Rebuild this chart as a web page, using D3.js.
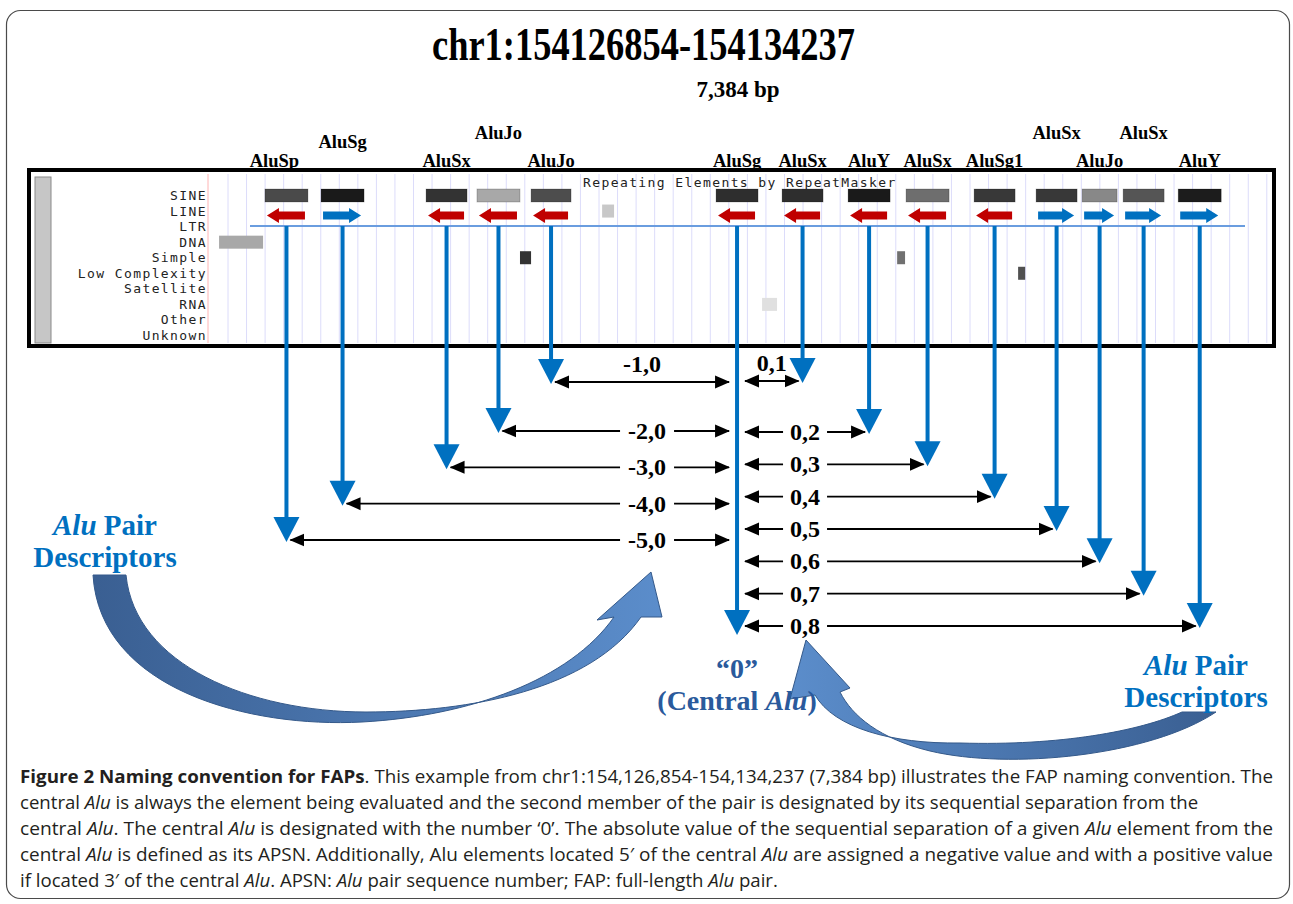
<!DOCTYPE html>
<html><head><meta charset="utf-8">
<script src="https://cdn.jsdelivr.net/npm/d3@7"></script>
<style>body{margin:0;background:#fff} svg{display:block}</style>
</head><body>
<svg id="c" width="1293" height="904"></svg>
<script>
// ---------------- data ----------------
const titleText = "chr1:154126854-154134237";
const subtitleText = "7,384 bp";
const regionStart = 154126854, regionEnd = 154134237;
const trackLabels = ["SINE","LINE","LTR","DNA","Simple","Low Complexity","Satellite","RNA","Other","Unknown"];
const panelTitle = "Repeating Elements by RepeatMasker";

const aluNames   = ["AluSp","AluSg","AluSx","AluJo","AluJo","AluSg","AluSx","AluY","AluSx","AluSg1","AluSx","AluJo","AluSx","AluY"];
const aluStartBp = [382, 772, 1502, 1856, 2232, 3518, 3977, 4436, 4839, 5312, 5743, 6063, 6348, 6731];
const aluEndBp   = [681, 1071, 1787, 2155, 2510, 3810, 4262, 4728, 5138, 5597, 6028, 6306, 6633, 7030];
const aluStrand  = ["-","+","-","-","-","-","-","-","-","-","+","+","+","+"];
const aluScore   = [755, 973, 859, 327, 741, 882, 882, 973, 591, 836, 836, 473, 705, 964];
const aluApsn    = [-5, -4, -3, -2, -1, 0, 1, 2, 3, 4, 5, 6, 7, 8];
const aluLabelTier = [0, 2, 0, 3, 0, 0, 0, 0, 0, 0, 3, 0, 3, 0];

const otherTrack   = ["LINE","DNA","Simple","Simple","Low Complexity","RNA"];
const otherStartBp = [2726, 63, 2155, 4777, 5618, 3838];
const otherEndBp   = [2809, 369, 2232, 4832, 5667, 3942];
const otherScore   = [182, 327, 859, 582, 727, 73];

const captionLines = [
  "**Figure 2 Naming convention for FAPs**. This example from chr1:154,126,854-154,134,237 (7,384 bp) illustrates the FAP naming convention. The",
  "central *Alu* is always the element being evaluated and the second member of the pair is designated by its sequential separation from the",
  "central *Alu*. The central *Alu* is designated with the number \u20180\u2019. The absolute value of the sequential separation of a given *Alu* element from the",
  "central *Alu* is defined as its APSN. Additionally, Alu elements located 5\u2032 of the central *Alu* are assigned a negative value and with a positive value",
  "if located 3\u2032 of the central *Alu*. APSN: *Alu* pair sequence number; FAP: full-length *Alu* pair."
];
const captionJustified = [true, false, true, true, false];

// ---------------- drawing ----------------
const svg = d3.select("#c");
const serif = "'Liberation Serif','Times New Roman',serif";
const mono = "'DejaVu Sans Mono',monospace";
const BLUE = "#0070c0";

const defs = svg.append("defs");
defs.append("marker").attr("id","ah").attr("viewBox","0 -7 15 14")
  .attr("markerUnits","userSpaceOnUse").attr("markerWidth",15).attr("markerHeight",14)
  .attr("refX",14).attr("refY",0).attr("orient","auto-start-reverse")
  .append("path").attr("d","M0,-6.5L15,0L0,6.5Z").attr("fill","#000");
const g1 = defs.append("linearGradient").attr("id","gL").attr("x1","0").attr("x2","1").attr("y1","0").attr("y2","0");
g1.append("stop").attr("offset","0").attr("stop-color","#3a5f92");
g1.append("stop").attr("offset","1").attr("stop-color","#5b8dcb");
const g2 = defs.append("linearGradient").attr("id","gR").attr("x1","1").attr("x2","0").attr("y1","0").attr("y2","0");
g2.append("stop").attr("offset","0").attr("stop-color","#3a5f92");
g2.append("stop").attr("offset","1").attr("stop-color","#5b8dcb");

// outer frame
svg.append("rect").attr("x",6.5).attr("y",10.5).attr("width",1283).attr("height",888)
  .attr("rx",14).attr("fill","none").attr("stroke","#4a4a4a").attr("stroke-width",1.2);

// title
svg.append("text").attr("x",432).attr("y",60).attr("font-family",serif).attr("font-weight","bold")
  .attr("font-size",47).attr("textLength",423).attr("lengthAdjust","spacingAndGlyphs").text(titleText);
svg.append("text").attr("x",738).attr("y",97).attr("text-anchor","middle").attr("font-family",serif)
  .attr("font-weight","bold").attr("font-size",23).text(subtitleText);

// scales
const x = d3.scaleLinear().domain([0, regionEnd - regionStart]).range([210, 1272]);
const row = d3.scaleLinear().domain([0, trackLabels.length - 1]).range([195.5, 335.5]);
const shade = d3.scaleLinear().domain([0, 1000]).range(["#f0f0f0", "#141414"]);
const rowLeft = d3.scaleLinear().domain([1, 2, 5]).range([382, 431, 540]);
const rowRight = d3.scaleLinear().domain([1, 2, 8]).range([381, 432, 626]);

const alus = aluNames.map((n, i) => ({name:n, s:aluStartBp[i], e:aluEndBp[i], strand:aluStrand[i],
  score:aluScore[i], apsn:aluApsn[i], tier:aluLabelTier[i], mid: x((aluStartBp[i] + aluEndBp[i]) / 2)}));
const central = alus.find(d => d.apsn === 0);
const cx = central.mid;

// panel
const panel = svg.append("g");
panel.append("rect").attr("x",29).attr("y",170).attr("width",1245).attr("height",176)
  .attr("fill","#fff").attr("stroke","none");
d3.range(228, 1272, 18.55).forEach(gx => {
  panel.append("line").attr("x1",gx).attr("x2",gx).attr("y1",174).attr("y2",343)
    .attr("stroke","#dcdcfa").attr("stroke-width",1);
});
panel.append("line").attr("x1",208).attr("x2",208).attr("y1",174).attr("y2",343).attr("stroke","#ffb4b4").attr("stroke-width",1);
panel.append("rect").attr("x",35).attr("y",177).attr("width",16).attr("height",166)
  .attr("fill","#c6c6c6").attr("stroke","#8a8a8a").attr("stroke-width",1);
panel.selectAll("text.tl").data(trackLabels).join("text").attr("class","tl")
  .attr("x",207).attr("y",(d,i)=>row(i)+4.5).attr("text-anchor","end")
  .attr("font-family",mono).attr("font-size",13).attr("letter-spacing",1.4).attr("fill","#222").text(d=>d);
panel.append("text").attr("x",583).attr("y",187).attr("font-family",mono).attr("font-size",13)
  .attr("letter-spacing",1.4).attr("fill","#222").text(panelTitle);

// other repeats
panel.selectAll("rect.oth").data(otherTrack).join("rect").attr("class","oth")
  .attr("x",(d,i)=>x(otherStartBp[i])).attr("width",(d,i)=>x(otherEndBp[i])-x(otherStartBp[i]))
  .attr("y",(d,i)=>row(trackLabels.indexOf(d))-6.5).attr("height",13)
  .attr("fill",(d,i)=>shade(otherScore[i]));

// SINE bars
panel.selectAll("rect.sine").data(alus).join("rect").attr("class","sine")
  .attr("x",d=>x(d.s)).attr("width",d=>x(d.e)-x(d.s)).attr("y",row(0)-6.5).attr("height",13)
  .attr("fill",d=>shade(d.score)).attr("stroke","rgba(0,0,0,0.25)").attr("stroke-width",0.8);

// strand arrows
const ay = row(1) + 4.5;
panel.selectAll("path.strand").data(alus).join("path").attr("class","strand")
  .attr("fill",d=>d.strand==="+"?BLUE:"#c00000")
  .attr("d",d=>{
    const a = x(d.s)+2, b = x(d.e)-3, L = 12;
    if (d.strand === "+") return `M${a},${ay-4}H${b-L}V${ay-7.5}L${b},${ay}L${b-L},${ay+7.5}V${ay+4}H${a}Z`;
    return `M${b},${ay-4}H${a+L}V${ay-7.5}L${a},${ay}L${a+L},${ay+7.5}V${ay+4}H${b}Z`;
  });
panel.append("line").attr("x1",250).attr("x2",1245).attr("y1",226).attr("y2",226)
  .attr("stroke","#6a9ddf").attr("stroke-width",2);
svg.append("rect").attr("x",29).attr("y",170).attr("width",1245).attr("height",176)
  .attr("fill","none").attr("stroke","#000").attr("stroke-width",4);

// Alu name labels
svg.selectAll("text.alu").data(alus).join("text").attr("class","alu")
  .attr("x",(d,i)=>d.mid + (i===0?-12:0)).attr("y",d=>167 - d.tier*9.5).attr("text-anchor","middle")
  .attr("font-family",serif).attr("font-weight","bold").attr("font-size",18.5).text(d=>d.name);

const tipY = d => d.apsn === 0 ? 635 : (d.apsn < 0 ? rowLeft(-d.apsn) : rowRight(d.apsn)) + 2;

// vertical blue arrows
const va = svg.append("g");
alus.forEach(d => {
  const t = tipY(d);
  va.append("line").attr("x1",d.mid).attr("x2",d.mid).attr("y1",226).attr("y2",t-22)
    .attr("stroke",BLUE).attr("stroke-width",4);
  va.append("path").attr("d",`M${d.mid-13},${t-25}L${d.mid+13},${t-25}L${d.mid},${t}Z`).attr("fill",BLUE);
});

// horizontal double arrows with labels
const ha = svg.append("g");
const labelFont = (sel) => sel.attr("font-family",serif).attr("font-weight","bold").attr("font-size",24).attr("text-anchor","middle");
alus.filter(d => d.apsn !== 0).forEach(d => {
  const left = d.apsn < 0;
  const y = left ? rowLeft(-d.apsn) : rowRight(d.apsn);
  const xa = left ? d.mid + 4 : cx + 8;
  const xb = left ? cx - 8 : d.mid - 4;
  const lab = left ? `${d.apsn},0` : `0,${d.apsn}`;
  if (Math.abs(d.apsn) === 1) {
    ha.append("line").attr("x1",xa).attr("x2",xb).attr("y1",y).attr("y2",y).attr("stroke","#000").attr("stroke-width",1.8)
      .attr("marker-start","url(#ah)").attr("marker-end","url(#ah)");
    ha.append("text").attr("x",(xa+xb)/2).attr("y",y-10).text(lab).call(labelFont);
  } else {
    const lc = left ? cx - 90 : cx + 68;
    const gap = left ? 27 : 22;
    ha.append("line").attr("x1",xa).attr("x2",lc-gap).attr("y1",y).attr("y2",y).attr("stroke","#000").attr("stroke-width",1.8)
      .attr("marker-start","url(#ah)");
    ha.append("line").attr("x1",lc+gap).attr("x2",xb).attr("y1",y).attr("y2",y).attr("stroke","#000").attr("stroke-width",1.8)
      .attr("marker-end","url(#ah)");
    ha.append("text").attr("x",lc).attr("y",y+8).text(lab).call(labelFont);
  }
});

// curved block arrows
svg.append("path").attr("fill","url(#gL)").attr("stroke","#34598a").attr("stroke-width",1)
  .attr("d","M93,575 C100,690 250,728 362,722 C470,716 570,680 614,617 L597,620 L651,572 L662,617 L641,617 C590,690 470,712 366,712 C250,712 135,665 126,575 Z");
svg.append("path").attr("fill","url(#gR)").attr("stroke","#34598a").attr("stroke-width",1)
  .attr("d","M1216,712 C1150,756 1010,770 930,751 C880,739 852,716 840,692 L850,688 L806,640 L790,699 L815,695 C834,728 892,744 960,743 C1060,746 1140,731 1182,712 Z");

// central labels
const ct = svg.append("text").attr("text-anchor","middle").attr("font-family",serif)
  .attr("font-weight","bold").attr("font-size",28).attr("fill","#2a5a9c");
ct.append("tspan").attr("x",cx).attr("y",678).text("\u201C0\u201D");
ct.append("tspan").attr("x",cx).attr("y",710).text("(Central ");
ct.append("tspan").attr("font-style","italic").text("Alu");
ct.append("tspan").text(")");

// Alu Pair Descriptors
function descriptor(cxp, y1, y2) {
  const t = svg.append("text").attr("text-anchor","middle").attr("font-family",serif)
    .attr("font-weight","bold").attr("font-size",29).attr("fill",BLUE);
  t.append("tspan").attr("x",cxp).attr("y",y1).attr("font-style","italic").text("Alu");
  t.append("tspan").text(" Pair");
  t.append("tspan").attr("x",cxp).attr("y",y2).text("Descriptors");
}
descriptor(105, 535, 567);
descriptor(1196, 675, 707);

// caption
const cap = svg.append("g").attr("font-family","'Open Sans','Noto Sans',sans-serif").attr("fill","#231f20");
function addRich(t, s) {
  const re = /(\*\*[^*]+\*\*|\*[^*]+\*)/g;
  s.split(re).filter(p => p.length).forEach(p => {
    const ts = t.append("tspan");
    if (p.startsWith("**")) ts.attr("font-weight","bold").text(p.slice(2,-2));
    else if (p.startsWith("*")) ts.attr("font-style","italic").text(p.slice(1,-1));
    else ts.text(p);
  });
}
captionLines.forEach((s, i) => {
  const t = cap.append("text").attr("x",20).attr("y",783 + i*26).attr("font-size",18.6);
  addRich(t, s);
  if (captionJustified[i]) t.attr("textLength",1253).attr("lengthAdjust","spacingAndGlyphs");
});
</script>
</body></html>
